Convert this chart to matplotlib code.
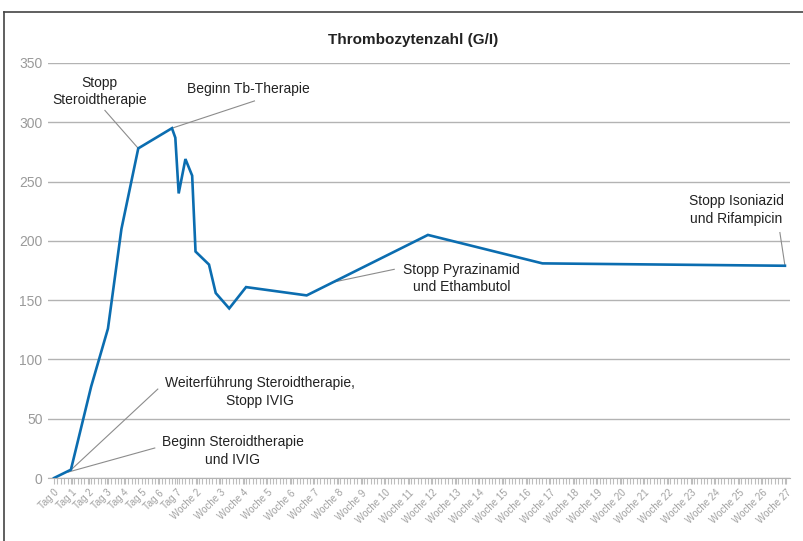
import numpy as np
import matplotlib
matplotlib.use("Agg")
import matplotlib.pyplot as plt
from matplotlib.lines import Line2D

# x = row index on the category axis, y = platelet count (G/l)
rows = [0, 5, 11, 16, 20, 25, 35, 36, 37, 39, 41, 42, 46, 48, 52, 57, 75, 111, 145, 217]
platelets = [0, 7, 77, 126, 210, 278, 295, 287, 240, 269, 255, 191, 180, 156, 143, 161, 154, 205, 181, 179]

tag_labels = [f"Tag {i}" for i in range(8)]
woche_labels = [f"Woche {i}" for i in range(2, 28)]

# annotations: text, text position, point on line, end of leader line
notes = [
    ("Stopp\nSteroidtherapie", (13.6, 326), (25, 278), (15.1, 310)),
    ("Beginn Tb-Therapie", (57.6, 328), (35, 295), (59.5, 318)),
    ("Stopp Isoniazid\nund Rifampicin", (202.5, 226), (217, 179), (215.5, 207)),
    ("Stopp Pyrazinamid\nund Ethambutol", (121, 168.5), (82.6, 165), (101, 176)),
    ("Weiterführung Steroidtherapie,\nStopp IVIG", (61, 72.5), (4.7, 6), (30.8, 75)),
    ("Beginn Steroidtherapie\nund IVIG", (53, 22.8), (4.2, 5), (29.9, 25.3)),
]

plt.rcParams['font.family'] = ['Liberation Sans', 'DejaVu Sans']

fig = plt.figure(figsize=(8.04, 5.41), dpi=100)
ax = fig.add_axes([48/804, (541-478)/541, (790-48)/804, (478-63)/541])

ax.plot(rows, platelets, color="#0b6db0", lw=1.9, solid_joinstyle="miter", zorder=3)

ax.set_xlim(-1.8, 218.5)
ax.set_ylim(0, 350)
ax.set_yticks(np.arange(0, 351, 50))
ax.grid(axis="y", color="#b3b3b3", lw=1.0)
ax.set_axisbelow(True)

tick_pos = [i * 5.2 for i in range(8)] + [42.3 + 7 * (n - 2) for n in range(2, 28)]
ax.set_xticks(tick_pos)
ax.set_xticklabels(tag_labels + woche_labels, rotation=45, ha="right", va="top",
                   rotation_mode="anchor", fontsize=7, color="#a0a0a0")
ax.set_xticks(np.arange(0, 218, 1), minor=True)
ax.tick_params(axis="x", which="both", length=4, color="#bdbdbd", width=0.8, pad=3)
ax.tick_params(axis="y", length=0, pad=4, labelsize=10, labelcolor="#9a9a9a")

for s in ["top", "right", "left"]:
    ax.spines[s].set_visible(False)
ax.spines["bottom"].set_color("#b3b3b3")

for text, tpos, p0, p1 in notes:
    ax.plot([p0[0], p1[0]], [p0[1], p1[1]], color="#8c8c8c", lw=0.8, zorder=2)
    ax.text(tpos[0], tpos[1], text, ha="center", va="center", fontsize=10,
            color="#222222", linespacing=1.3)

fig.text(413/804, 1 - 40/541, "Thrombozytenzahl (G/I)", ha="center", va="center",
         fontsize=11, fontweight="bold", color="#222222",
         family=["Liberation Sans Narrow", "Liberation Sans", "DejaVu Sans"])

# outer frame (left and top edges visible)
fig.add_artist(Line2D([4/804, 4/804], [0, 1 - 12/541], color="#444444", lw=1.2))
fig.add_artist(Line2D([4/804, 1], [1 - 12/541, 1 - 12/541], color="#444444", lw=1.2))

fig.savefig("out.png", dpi=100)
